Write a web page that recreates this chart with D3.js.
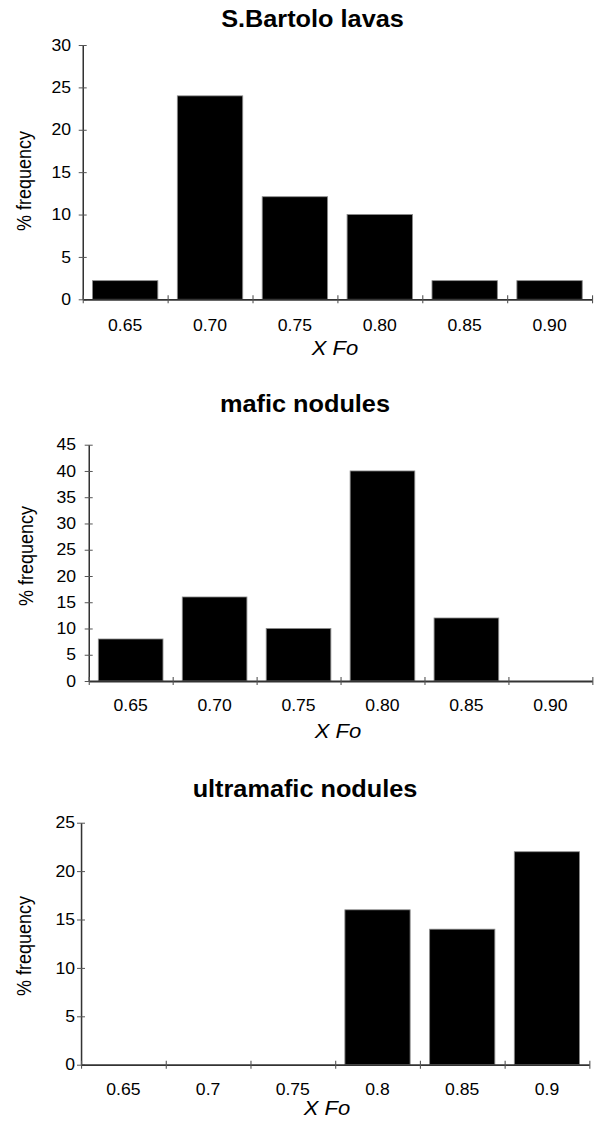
<!DOCTYPE html>
<html><head><meta charset="utf-8">
<script src="https://cdn.jsdelivr.net/npm/d3@7"></script>
<style>html,body{margin:0;padding:0;background:#fff;} svg{display:block;}</style>
</head><body>
<svg id="chart"></svg>
<script>
// ---- data ----
const categoriesA = ["0.65","0.70","0.75","0.80","0.85","0.90"];
const categoriesB = ["0.65","0.7","0.75","0.8","0.85","0.9"];
const lavasValues = [2.2, 24, 12.1, 10, 2.2, 2.2];
const maficValues = [8, 16, 10, 40, 12, 0];
const ultramaficValues = [0, 0, 0, 16, 14, 22];
const titles = ["S.Bartolo lavas", "mafic nodules", "ultramafic nodules"];
const yMaxes = [30, 45, 25];
const yTickStep = 5;
const xAxisLabel = "X Fo";
const yAxisLabel = "% frequency";

// ---- layout ----
const W = 599, H = 1126, K = 1.1; // horizontal stretch of the original figure
const FONT = "'Liberation Sans', Arial, Helvetica, sans-serif";
const svg = d3.select("#chart")
  .attr("width", W).attr("height", H)
  .attr("viewBox", `0 0 ${W / K} ${H}`)
  .attr("preserveAspectRatio", "none");
svg.append("rect").attr("width", W / K).attr("height", H).attr("fill", "#fff");

const panels = [
  {title: titles[0], cats: categoriesA, vals: lavasValues, yMax: yMaxes[0],
   x0: 82.7, x1: 592, yTop: 45, yZero: 299.3, titleX: 312.5, titleY: 27.3,
   tickY: 330.7, xlabX: 335, xlabY: 355, ylabX: 24.5, ylabY: 181, yGap: 11.7},
  {title: titles[1], cats: categoriesA, vals: maficValues, yMax: yMaxes[1],
   x0: 88.7, x1: 592.3, yTop: 444.7, yZero: 681, titleX: 305, titleY: 411.7,
   tickY: 710.7, xlabX: 338, xlabY: 738, ylabX: 26.5, ylabY: 556, yGap: 12.7},
  {title: titles[2], cats: categoriesB, vals: ultramaficValues, yMax: yMaxes[2],
   x0: 81, x1: 589.3, yTop: 822.7, yZero: 1064.7, titleX: 305, titleY: 796.7,
   tickY: 1095, xlabX: 327, xlabY: 1115, ylabX: 24.5, ylabY: 946, yGap: 6}
];

panels.forEach(p => {
  const g = svg.append("g");
  const n = p.cats.length;
  const xb = d3.scaleBand().domain(p.cats).range([p.x0 / K, p.x1 / K])
    .paddingInner(0.23).paddingOuter(0.115);
  const xl = d3.scaleLinear().domain([0, n]).range([p.x0 / K, p.x1 / K]);
  const y = d3.scaleLinear().domain([0, p.yMax]).range([p.yZero, p.yTop]);

  // bars
  const data = p.cats.map((c, i) => ({c, v: p.vals[i]})).filter(d => d.v > 0);
  g.selectAll("rect.bar").data(data).join("rect").attr("class", "bar")
    .attr("x", d => xb(d.c)).attr("width", xb.bandwidth())
    .attr("y", d => y(d.v)).attr("height", d => y(0) - y(d.v))
    .attr("fill", "#000").attr("stroke", "#8a8a8a").attr("stroke-width", 0.8);

  // y axis
  const ya = g.append("g").attr("transform", `translate(${p.x0 / K},0)`)
    .call(d3.axisLeft(y).tickValues(d3.range(0, p.yMax + 0.001, yTickStep))
      .tickSizeOuter(0).tickSizeInner(4 / K).tickFormat(d3.format("d")));
  ya.attr("font-family", FONT).attr("font-size", 16);
  ya.select(".domain").attr("stroke", "#333").attr("stroke-width", 1.4);
  ya.selectAll(".tick line").attr("x1", -4 / K).attr("x2", 4 / K).attr("stroke", "#555").attr("stroke-width", 1);
  ya.selectAll(".tick text").attr("x", -p.yGap / K).attr("fill", "#000");

  // x axis: boundary ticks + line
  const xa = g.append("g").attr("transform", `translate(0,${p.yZero})`)
    .call(d3.axisBottom(xl).tickValues(d3.range(0, n + 1)).tickFormat("").tickSizeOuter(0));
  xa.select(".domain").attr("stroke", "#333").attr("stroke-width", 1.8);
  xa.selectAll(".tick line").attr("y1", -4).attr("y2", 4).attr("stroke", "#555").attr("stroke-width", 1);

  // x axis: category labels
  const xc = g.append("g").attr("transform", `translate(0,${p.yZero})`)
    .call(d3.axisBottom(xb).tickSize(0));
  xc.attr("font-family", FONT).attr("font-size", 16);
  xc.select(".domain").remove();
  xc.selectAll(".tick text").attr("y", p.tickY - p.yZero).attr("dy", 0).attr("fill", "#000");

  // title
  g.append("text").attr("x", p.titleX / K).attr("y", p.titleY)
    .attr("text-anchor", "middle").attr("font-family", FONT)
    .attr("font-weight", "bold").attr("font-size", 23).text(p.title);

  // x label
  g.append("text").attr("x", p.xlabX / K).attr("y", p.xlabY)
    .attr("text-anchor", "middle").attr("font-family", FONT)
    .attr("font-style", "italic").attr("font-size", 20).text(xAxisLabel);

  // y label
  g.append("text").attr("transform", `translate(${p.ylabX / K},${p.ylabY}) rotate(-90)`)
    .attr("text-anchor", "middle").attr("dy", "0.35em").attr("font-family", FONT)
    .attr("font-size", 18).text(yAxisLabel);
});
</script>
</body></html>
